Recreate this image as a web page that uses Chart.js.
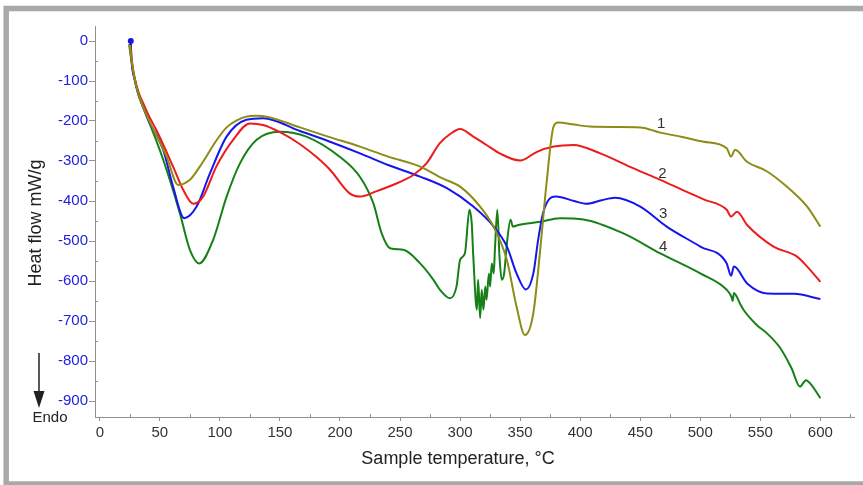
<!DOCTYPE html>
<html>
<head>
<meta charset="utf-8">
<script src="https://cdn.jsdelivr.net/npm/chart.js@4.4.1/dist/chart.umd.min.js"></script>
<style>
  body { margin: 0; background: #fff; }
  canvas { display: block; }
</style>
</head>
<body>
<canvas id="dsc" width="863" height="485"></canvas>
<script>
// DSC curves (temperature in °C, heat flow in mW/g)
const temp1 = [25, 26.4, 29.2, 32, 36, 40, 44.4, 55.6, 65.3, 75, 83.3, 88.9, 95, 105.6, 115, 122, 130, 140, 166.7, 190, 216.7, 240, 266.7, 285, 300, 316.7, 327.8, 338.9, 347, 354, 361, 366.7, 372, 377.8, 381.7, 395, 408, 430, 450, 466.7, 485, 502.8, 522, 525.6, 529, 538.9, 555, 572, 589, 600]
const flow1 = [-10, -47, -97, -131, -164, -193, -220, -289, -360, -347, -314, -288, -258, -216, -197, -189, -187, -190, -216, -239, -264, -289, -314, -343, -364, -414, -464, -547, -664, -735, -680, -522, -355, -214, -204, -209, -214, -215, -216, -229, -240, -252, -268, -289, -272, -302, -325, -364, -414, -464]

const temp2 = [25.6, 26.6, 29.4, 32.3, 36.5, 41, 47, 61, 69.4, 77.8, 86, 97, 111, 125, 136, 150, 166.7, 180, 191.7, 208, 216.7, 230, 244, 261, 272, 283, 292, 300, 311, 322, 333, 350, 364, 378, 394.4, 416.7, 444, 466.7, 485, 502.8, 522, 525.6, 530.6, 539, 561, 580.6, 589, 600]
const flow2 = [-10, -47, -97, -128, -158, -188, -222, -314, -372, -407, -389, -314, -247, -206, -210, -228, -258, -289, -322, -381, -389, -376, -360, -335, -306, -256, -232, -220, -239, -260, -281, -299, -277, -264, -260, -281, -318, -347, -372, -396, -422, -439, -427, -460, -514, -539, -564, -602]

const temp3 = [25.8, 26.4, 29.2, 32, 36, 40, 52.8, 61, 70.3, 80.6, 91.7, 105.6, 122, 136, 166.7, 190, 216.7, 240, 266.7, 289, 311, 328, 339, 347, 354.7, 361, 365, 369, 376, 380, 395, 405.6, 418, 429, 450, 472, 500, 522, 525.6, 528, 539, 555.6, 578, 600]
const flow3 = [0, -47, -97, -131, -164, -195, -272, -364, -443, -414, -331, -239, -197, -193, -225, -250, -281, -310, -339, -368, -414, -464, -514, -581, -621, -581, -497, -431, -391, -389, -400, -407, -398, -392, -414, -464, -514, -556, -587, -564, -606, -631, -632, -645]

const temp4 = [24.4, 26.2, 29, 31.8, 35.8, 40, 52.8, 66.7, 75, 82.8, 94.4, 105.6, 116.7, 130.6, 150, 172, 200, 216.7, 227.8, 234.7, 241.7, 252.8, 266.7, 277.8, 283.3, 291.7, 297, 300, 304, 307.8, 309.7, 311, 314, 315, 316.7, 318, 319.4, 321, 322, 324, 325, 326.4, 328, 329, 331, 332.8, 334.7, 336.7, 339, 342, 344, 348.6, 366.7, 383, 402.8, 436, 466.7, 500, 522, 526, 527, 528, 533, 536, 547, 555.6, 566.7, 576, 583, 588, 592, 600]
const flow4 = [-8, -47, -97, -131, -164, -195, -297, -431, -522, -556, -497, -389, -306, -247, -227, -239, -290, -340, -406, -481, -518, -522, -556, -597, -622, -643, -614, -547, -531, -422, -456, -539, -672, -597, -693, -622, -672, -614, -647, -581, -614, -556, -581, -522, -422, -539, -597, -581, -506, -447, -464, -460, -452, -443, -446, -481, -531, -581, -622, -640, -650, -630, -656, -672, -710, -731, -768, -818, -864, -848, -858, -893]

const xTickValues = [0, 50, 100, 150, 200, 250, 300, 350, 400, 450, 500, 550, 600]
const yTickValues = [0, -100, -200, -300, -400, -500, -600, -700, -800, -900]

// curve numbers, placed in data space next to the traces
const curveLabels = ['1', '2', '3', '4']
const curveLabelTemp = [467.5, 468.5, 469, 469]
const curveLabelFlow = [-207, -332, -432, -515]

const colors = ['rgb(140,140,22)', 'rgb(236,28,28)', 'rgb(22,22,236)', 'rgb(22,128,22)']
const FONT = "'Liberation Sans', Arial, sans-serif"

function toPoints(xs, ys) {
    return xs.map((x, i) => ({ x: x, y: ys[i] }))
}

/**
 * Frame, axis titles, the Endo arrow, minor ticks and the curve numbers.
 */
const decorations = {
    id: 'decorations',
    beforeDraw(chart) {
        const ctx = chart.ctx
        ctx.save()
        ctx.fillStyle = '#fff'
        ctx.fillRect(0, 0, chart.width, chart.height)
        ctx.strokeStyle = '#a9a9a9'
        ctx.lineWidth = 5.5
        ctx.strokeRect(6.2, 8.5, 880, 475.5)
        ctx.restore()
    },
    afterDraw(chart) {
        const ctx = chart.ctx
        const x = chart.scales.x
        const y = chart.scales.y
        const area = chart.chartArea
        ctx.save()

        // minor ticks, pointing into the plot
        ctx.strokeStyle = '#909090'
        ctx.lineWidth = 1
        ctx.beginPath()
        for (let v = 25; v < x.max; v += 50) {
            const px = Math.round(x.getPixelForValue(v)) + 0.5
            ctx.moveTo(px, area.bottom)
            ctx.lineTo(px, area.bottom - 3)
        }
        for (let v = -50; v > y.min; v -= 100) {
            const py = Math.round(y.getPixelForValue(v)) + 0.5
            ctx.moveTo(area.left, py)
            ctx.lineTo(area.left + 3, py)
        }
        ctx.stroke()

        // axis titles
        ctx.fillStyle = '#222'
        ctx.font = '18px ' + FONT
        ctx.textAlign = 'center'
        ctx.textBaseline = 'middle'
        ctx.fillText('Sample temperature, °C', 458, 459)
        ctx.save()
        ctx.translate(36, 223)
        ctx.rotate(-Math.PI / 2)
        ctx.fillText('Heat flow mW/g', 0, 0)
        ctx.restore()

        // Endo arrow
        ctx.strokeStyle = '#222'
        ctx.lineWidth = 1.5
        ctx.beginPath()
        ctx.moveTo(39, 353)
        ctx.lineTo(39, 398)
        ctx.stroke()
        ctx.beginPath()
        ctx.moveTo(33.5, 391)
        ctx.lineTo(44.5, 391)
        ctx.lineTo(39, 408)
        ctx.closePath()
        ctx.fill()
        ctx.font = '15px ' + FONT
        ctx.fillText('Endo', 50, 418)

        // curve numbers
        ctx.fillStyle = '#333'
        curveLabels.forEach((t, i) => {
            ctx.fillText(t, x.getPixelForValue(curveLabelTemp[i]), y.getPixelForValue(curveLabelFlow[i]))
        })
        ctx.restore()
    }
}

const temps = [temp1, temp2, temp3, temp4]
const flows = [flow1, flow2, flow3, flow4]

new Chart(document.getElementById('dsc'), {
    type: 'line',
    data: {
        datasets: curveLabels.map((name, i) => ({
            label: name,
            data: toPoints(temps[i], flows[i]),
            borderColor: colors[i],
            backgroundColor: colors[i],
            borderWidth: 2,
            pointRadius: i === 2 ? (c => c.dataIndex === 0 ? 2 : 0) : 0,
            cubicInterpolationMode: 'monotone',
            fill: false
        }))
    },
    options: {
        responsive: false,
        animation: false,
        events: [],
        layout: { padding: { left: 0, right: 9, top: 26, bottom: 0 } },
        plugins: { legend: { display: false }, tooltip: { enabled: false } },
        scales: {
            x: {
                type: 'linear',
                min: -4,
                max: 628,
                afterBuildTicks: s => { s.ticks = xTickValues.map(v => ({ value: v })) },
                afterFit: s => { s.height = 68 },
                grid: { drawOnChartArea: false, tickLength: 4, color: '#909090' },
                border: { color: '#909090', width: 1 },
                ticks: { color: '#333', padding: 3, maxRotation: 0, font: { family: FONT, size: 15 }, callback: v => String(v) }
            },
            y: {
                type: 'linear',
                min: -940,
                max: 37.5,
                afterBuildTicks: s => { s.ticks = yTickValues.map(v => ({ value: v })) },
                afterFit: s => { s.width = 95 },
                grid: { drawOnChartArea: false, tickLength: 6, color: '#909090' },
                border: { color: '#909090', width: 1 },
                ticks: { color: '#2020e6', padding: 1, font: { family: FONT, size: 15 }, callback: v => String(v) }
            }
        }
    },
    plugins: [decorations]
})
</script>
</body>
</html>
